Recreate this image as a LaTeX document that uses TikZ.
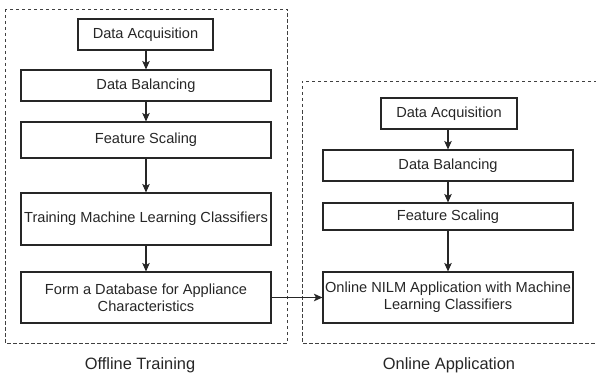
\documentclass[tikz,border=0pt]{standalone}
\usepackage{fontspec}
\setmainfont{Liberation Sans}
\usetikzlibrary{arrows.meta}
\begin{document}
\begin{tikzpicture}[x=1pt,y=-1pt,
  stepbox/.style={draw=black!85, line width=1.1pt, rectangle, inner sep=0pt,
    align=center, font=\fontsize{14.6}{17}\selectfont, text=black!85},
  wide/.style={stepbox, minimum width=250pt},
  flow/.style={draw=black!85, line width=1.1pt, -{Stealth[length=8.5pt,width=7.5pt,inset=2pt]}},
  group/.style={draw=black!75, line width=0.9pt, dash pattern=on 3.5pt off 2.5pt},
  caption/.style={font=\fontsize{16.4}{19}\selectfont, text=black!85}]
  \useasboundingbox (0,0) rectangle (596,377);

  % frames of the two stages
  \draw[group] (5,9) rectangle (287,343);
  \draw[group] (597,81) -- (302,81) -- (302,343) -- (597,343);

  % offline column
  \node[stepbox, minimum width=135pt, minimum height=31pt] (acqL) at (145.5,34.5) {Data Acquisition};
  \node[wide, minimum height=31pt] (balL) at (146,85.5) {Data Balancing};
  \node[wide, minimum height=36pt] (fsL) at (146,140) {Feature Scaling};
  \node[wide, minimum height=52pt] (trL) at (146,219) {Training Machine Learning Classifiers};
  \node[wide, minimum height=51pt] (dbL) at (146,297.5) {Form a Database for Appliance\\Characteristics};

  % online column
  \node[stepbox, minimum width=136pt, minimum height=31pt] (acqR) at (449,113.5) {Data Acquisition};
  \node[wide, minimum height=31pt] (balR) at (448,165.5) {Data Balancing};
  \node[wide, minimum height=27pt] (fsR) at (448,216.5) {Feature Scaling};
  \node[wide, minimum height=51pt] (nilmR) at (448,297.5) {Online NILM Application with Machine\\Learning Classifiers};

  % connectors
  \draw[flow] (acqL.south -| balL.north) -- (balL.north);
  \draw[flow] (balL) -- (fsL);
  \draw[flow] (fsL) -- (trL);
  \draw[flow] (trL) -- (dbL);
  \draw[flow] (acqR.south -| balR.north) -- (balR.north);
  \draw[flow] (balR) -- (fsR);
  \draw[flow] (fsR) -- (nilmR);
  \draw[flow] (dbL.east) -- (nilmR.west);

  % stage captions
  \node[caption] (capL) at (140,365) {Offline Training};
  \node[caption] (capR) at (449,365) {Online Application};
\end{tikzpicture}
\end{document}
